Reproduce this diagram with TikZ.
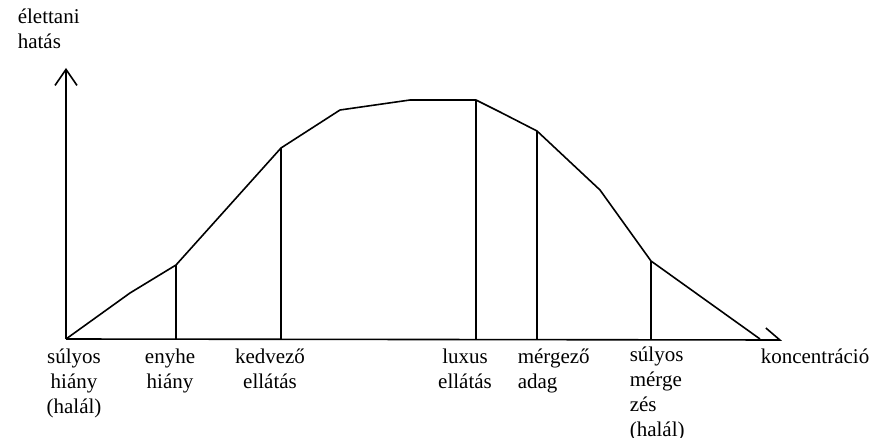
\documentclass[tikz,border=0pt]{standalone}
\usepackage{fontspec}
\setmainfont{Liberation Serif}
\usetikzlibrary{arrows.meta}

\begin{document}
\begin{tikzpicture}[x=1pt,y=-1pt,>={Straight Barb[length=16pt,width=22pt]},line width=1.6pt,
  lbl/.style={inner sep=0pt,font=\fontsize{21}{25}\selectfont}]
  \useasboundingbox (0,0) rectangle (875,438);
  % axes
  \coordinate (o) at (66,339);
  \coordinate (ytop) at (66,68);
  \coordinate (xend) at (782,340);
  \draw[->] (o) -- (ytop);
  \draw[-{Straight Barb[left,length=14pt,width=24pt]}] (o) -- (xend);

  % curve
  \coordinate (c1) at (130,293);
  \coordinate (enyhe) at (176,265);
  \coordinate (kedvezo) at (281,148);
  \coordinate (c2) at (340,110);
  \coordinate (c3) at (410,100);
  \coordinate (luxus) at (476,100);
  \coordinate (c4) at (500,112);
  \coordinate (mergezo) at (537,131);
  \coordinate (c5) at (600,190);
  \coordinate (sulyos) at (651,261);
  \coordinate (cend) at (760,339);
  \draw[line join=round] (o) -- (c1) -- (enyhe) -- (kedvezo) -- (c2) -- (c3) -- (luxus)
    -- (c4) -- (mergezo) -- (c5) -- (sulyos) -- (cend);
  \foreach \p in {enyhe,kedvezo,luxus,mergezo,sulyos}
    \draw (\p) -- (\p |- o);

  % labels (base = last line)
  \node[lbl,align=left,anchor=base west] (yl) at (17,49) {élettani\\hatás};
  \node[lbl,align=center,anchor=base] (l1) at (74,413) {súlyos\\hiány\\(halál)};
  \node[lbl,align=center,anchor=base] (l2) at (170,388) {enyhe\\hiány};
  \node[lbl,align=center,anchor=base] (l3) at (270,388) {kedvező\\ellátás};
  \node[lbl,align=center,anchor=base] (l4) at (465,388) {luxus\\ellátás};
  \node[lbl,align=left,anchor=base west] (l5) at (517,388) {mérgező\\adag};
  \node[lbl,align=left,anchor=base west] (l6) at (629,436) {súlyos\\mérge\\zés\\(halál)};
  \node[lbl,anchor=base west] (xl) at (760,363) {koncentráció};
\end{tikzpicture}
\end{document}
